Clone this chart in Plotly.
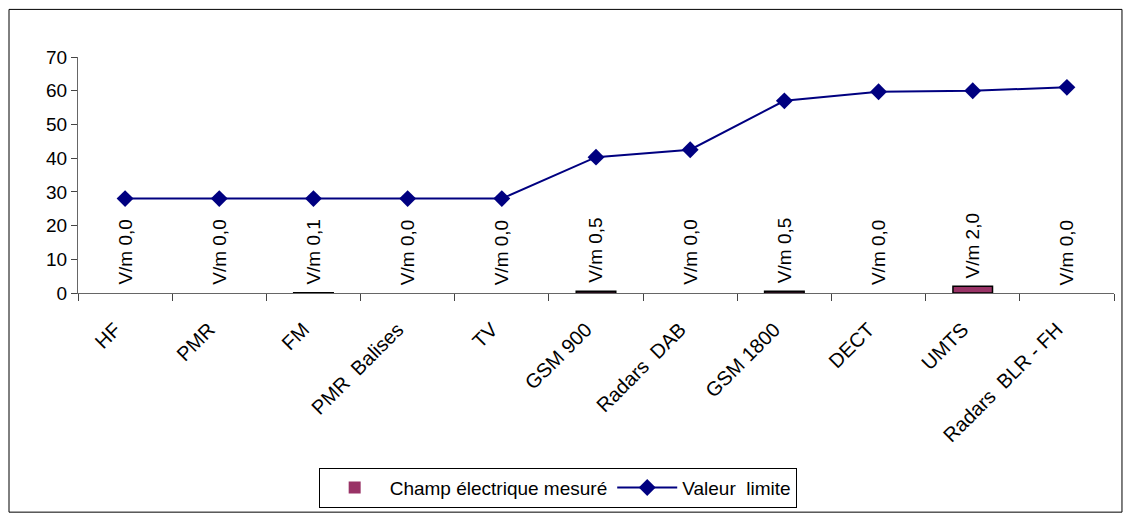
import plotly.graph_objects as go

categories = ["HF", "PMR", "FM", "PMR\u00a0\u00a0Balises", "TV", "GSM 900", "Radars\u00a0\u00a0DAB",
              "GSM 1800", "DECT", "UMTS", "Radars\u00a0\u00a0BLR - FH"]
champ_mesure = [0.0, 0.0, 0.1, 0.0, 0.0, 0.5, 0.0, 0.5, 0.0, 2.0, 0.0]
valeur_limite = [28, 28, 28, 28, 28, 40.3, 42.5, 57, 59.7, 60, 61]
bar_labels = ["V/m " + f"{v:.1f}".replace(".", ",") for v in champ_mesure]

FONT = "Liberation Sans, Arial, sans-serif"

fig = go.Figure()
fig.add_trace(go.Bar(
    x=categories, y=champ_mesure, name="Champ électrique mesuré",
    marker=dict(color="#993366",
                line=dict(color="black", width=[1.5 if v > 0 else 0 for v in champ_mesure])),
    width=0.42,
))
fig.add_trace(go.Scatter(
    x=categories, y=valeur_limite, name="Valeur\u00a0\u00a0limite", mode="lines+markers",
    line=dict(color="#000080", width=2),
    marker=dict(symbol="diamond", size=13, color="#000080"),
))

for c, v, t in zip(categories, champ_mesure, bar_labels):
    fig.add_annotation(x=c, y=v, text=t, showarrow=False, textangle=-90,
                       yanchor="bottom", xanchor="center", yshift=6,
                       font=dict(family=FONT, size=19, color="black"))

fig.add_shape(type="rect", xref="paper", yref="paper",
              x0=-0.0666, x1=1.0077, y0=-0.9286, y1=1.2017,
              line=dict(color="black", width=1))

fig.update_layout(
    width=1115, height=508,
    margin=dict(l=70, r=9, t=49, b=221),
    paper_bgcolor="white", plot_bgcolor="white",
    font=dict(family=FONT, size=19, color="black"),
    showlegend=True,
    legend=dict(orientation="h", x=0.463, xanchor="center", y=-0.74, yanchor="top",
                bordercolor="black", borderwidth=1, bgcolor="white",
                font=dict(family=FONT, size=19), itemwidth=60),
    xaxis=dict(type="category", tickangle=-45, tickson="boundaries", ticks="outside",
               ticklen=7, tickcolor="#444", showline=True, linecolor="#666",
               linewidth=1, showgrid=False, range=[-0.5, 10.5],
               tickfont=dict(family=FONT, size=20),
               ticklabelshift=-10, ticklabelstandoff=16),
    yaxis=dict(range=[0, 70], dtick=10, ticks="outside", ticklen=6, tickcolor="#444",
               showline=True, linecolor="#666", linewidth=1, showgrid=False,
               zeroline=False),
)

fig.write_html("out.html")
